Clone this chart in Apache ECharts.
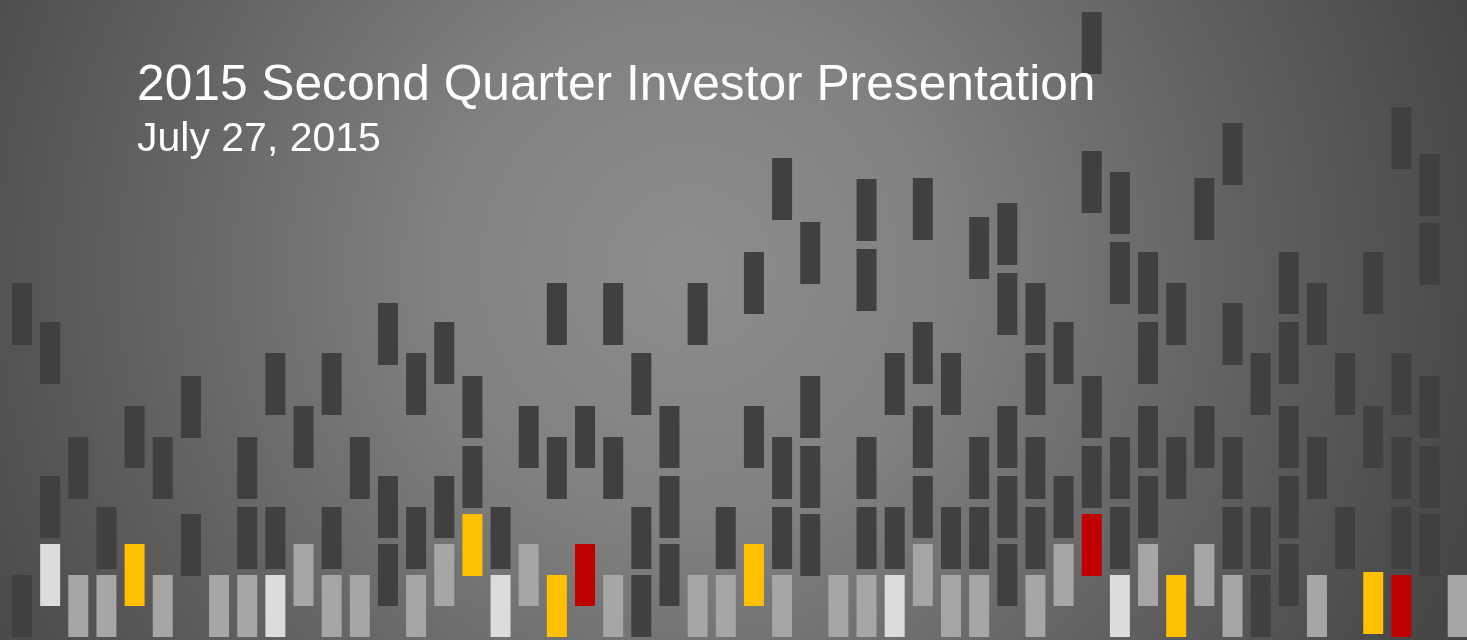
<!DOCTYPE html>
<html>
<head>
<meta charset="utf-8">
<script src="https://cdn.jsdelivr.net/npm/echarts@6/dist/echarts.min.js"></script>
<style>
html,body{margin:0;padding:0;background:#666;}
#c{width:1467px;height:640px;}
</style>
</head>
<body>
<div id="c"></div>
<script>
// Each block: [column index, top level]
const titleText = '2015 Second Quarter Investor Presentation';
const subtitleText = 'July 27, 2015';

const darkBlocks = [
  [0,283],[0,575],
  [1,322],[1,476],
  [2,437],
  [3,507],
  [4,406],
  [5,437],
  [6,376],[6,514],
  [8,437],[8,507],
  [9,353],[9,507],
  [10,406],
  [11,353],[11,507],
  [12,437],
  [13,303],[13,476],[13,544],
  [14,353],[14,507],
  [15,322],[15,476],
  [16,376],[16,446],
  [17,507],
  [18,406],
  [19,283],[19,437],
  [20,406],
  [21,283],[21,437],
  [22,353],[22,507],[22,575],
  [23,406],[23,476],[23,544],
  [24,283],
  [25,507],
  [26,252],[26,406],
  [27,158],[27,437],[27,507],
  [28,222],[28,376],[28,446],[28,514],
  [30,179],[30,249],[30,437],[30,507],
  [31,353],[31,507],
  [32,178],[32,322],[32,406],[32,476],
  [33,353],[33,507],
  [34,217],[34,437],[34,507],
  [35,203],[35,273],[35,406],[35,476],[35,544],
  [36,283],[36,353],[36,437],[36,507],
  [37,322],[37,476],
  [38,12],[38,151],[38,376],[38,446],
  [39,172],[39,242],[39,437],[39,507],
  [40,252],[40,322],[40,406],[40,476],
  [41,283],[41,437],
  [42,178],[42,406],
  [43,123],[43,303],[43,437],[43,507],
  [44,353],[44,507],[44,575],
  [45,252],[45,322],[45,406],[45,476],[45,544],
  [46,283],[46,437],
  [47,353],[47,507],
  [48,252],[48,406],
  [49,107],[49,353],[49,437],[49,507],
  [50,154],[50,223],[50,376],[50,446],[50,514]
];
const greyBlocks = [
  [2,575],[3,575],[5,575],[7,575],[8,575],[10,544],[11,575],[12,575],
  [14,575],[15,544],[18,544],[21,575],[24,575],[25,575],[27,575],[29,575],
  [30,575],[32,544],[33,575],[34,575],[36,575],[37,544],[40,544],[42,544],
  [43,575],[46,575],[51,575]
];
const whiteBlocks = [[1,544],[9,575],[17,575],[31,575],[39,575]];
const yellowBlocks = [[4,544],[16,514],[19,575],[26,544],[41,575],[48,572]];
const redBlocks = [[20,544],[38,514],[49,575]];

function blockSeries(name, data, color) {
  return {
    name: name,
    type: 'scatter',
    data: data,
    symbol: 'rect',
    symbolSize: [20, 62],
    symbolOffset: [0, '50%'],
    itemStyle: { color: color, opacity: 1 },
    silent: true,
    emphasis: { disabled: true },
    z: 2
  };
}

const chart = echarts.init(document.getElementById('c'));
chart.setOption({
  animation: false,
  grid: { left: 0, right: 0, top: 0, bottom: 0 },
  xAxis: { type: 'value', min: -0.7815, max: 51.33, show: false },
  yAxis: { type: 'value', min: 0, max: 640, inverse: true, show: false },
  graphic: [
    {
      type: 'rect', left: 0, top: 0, z: -10, silent: true,
      shape: { width: 1467, height: 640 },
      style: {
        fill: {
          type: 'radial', x: 0.47, y: 0.42, r: 1.3,
          colorStops: [
            { offset: 0, color: '#8d8d8d' },
            { offset: 0.3, color: '#818181' },
            { offset: 0.65, color: '#626262' },
            { offset: 1, color: '#454545' }
          ]
        }
      }
    },
    {
      type: 'text', left: 137, top: 61, z: 100, silent: true,
      style: { text: titleText, fill: '#ffffff', font: '49.7px "Liberation Sans", Arial, sans-serif' }
    },
    {
      type: 'text', left: 137, top: 119, z: 100, silent: true,
      style: { text: subtitleText, fill: '#ffffff', font: '41px "Liberation Sans", Arial, sans-serif' }
    }
  ],
  series: [
    blockSeries('dark', darkBlocks, '#404040'),
    blockSeries('grey', greyBlocks, '#a6a6a6'),
    blockSeries('white', whiteBlocks, '#dcdcdc'),
    blockSeries('yellow', yellowBlocks, '#ffc000'),
    blockSeries('red', redBlocks, '#c00000')
  ]
});
</script>
</body>
</html>
